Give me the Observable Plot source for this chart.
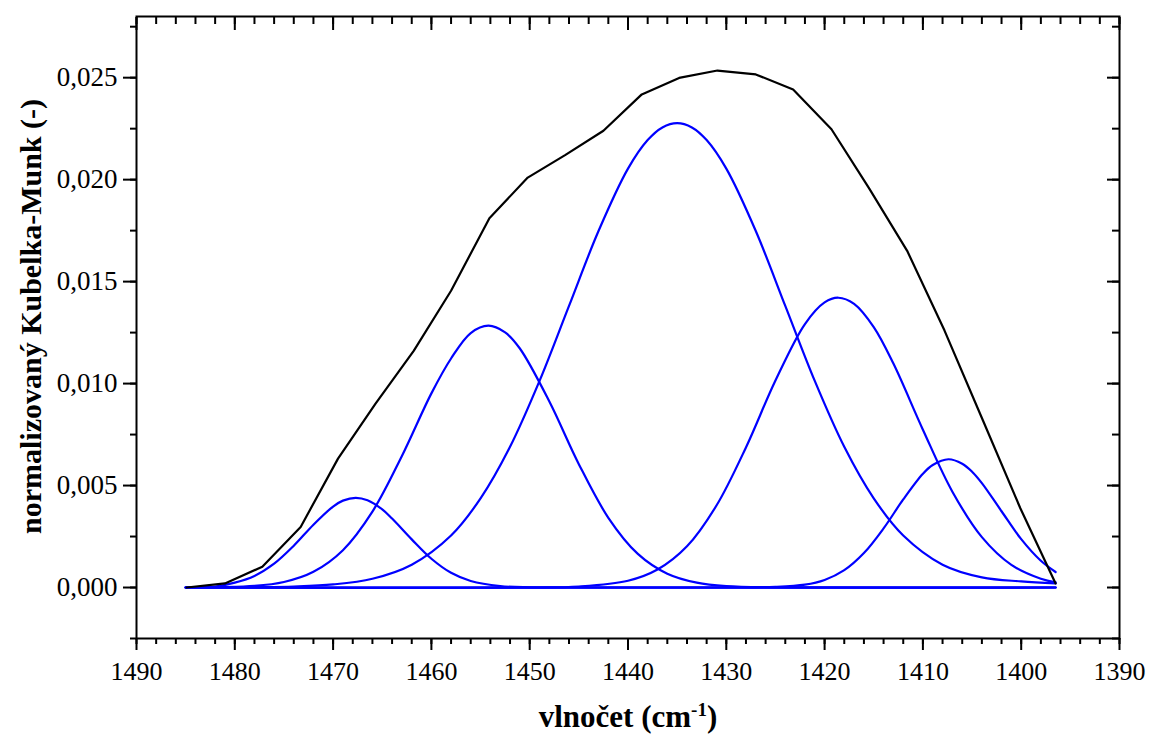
<!DOCTYPE html>
<html>
<head>
<meta charset="utf-8">
<script src="https://cdn.jsdelivr.net/npm/d3@7"></script>
<script src="https://cdn.jsdelivr.net/npm/@observablehq/plot@0.6"></script>
<style>
  html, body { margin: 0; padding: 0; background: #ffffff; }
  #chart { width: 1149px; height: 742px; }
</style>
</head>
<body>
<div id="chart"></div>
<script>
// ---- data ----
const xTitle = "vlnočet (cm-1)";
const yTitle = "normalizovaný Kubelka-Munk (-)";

const xMajorTicks = [1490, 1480, 1470, 1460, 1450, 1440, 1430, 1420, 1410, 1400, 1390];
const xMinorTicks = d3.range(1390, 1490.1, 2);
const yMajorTicks = [0, 0.005, 0.010, 0.015, 0.020, 0.025];
const yMinorTicks = [-0.0025, 0, 0.0025, 0.005, 0.0075, 0.010, 0.0125, 0.015, 0.0175, 0.020, 0.0225, 0.025, 0.0275];

// measured spectrum (black)
const measuredWavenumber = [1484.9, 1481.0, 1477.2, 1473.3, 1469.5, 1465.7, 1461.8, 1458.0, 1454.1, 1450.2, 1446.4, 1442.5, 1438.6, 1434.8, 1430.9, 1427.0, 1423.2, 1419.3, 1415.5, 1411.6, 1407.8, 1403.9, 1400.1, 1396.5];
const measuredKM = [0.0000, 0.0002, 0.00102, 0.00297, 0.00632, 0.0090, 0.0116, 0.01455, 0.01811, 0.0201, 0.0212, 0.0224, 0.02418, 0.02499, 0.02535, 0.02516, 0.02442, 0.02247, 0.0196, 0.01651, 0.0126, 0.0082, 0.0039, 0.0002];

// fitted components (blue)
const baselineWavenumber = [1485, 1396.5];
const baselineKM = [0, 0];

const peak1Wavenumber = [1485, 1482, 1480, 1478, 1476, 1474, 1472, 1470, 1469, 1467.7, 1466.5, 1465, 1464, 1462, 1460, 1458, 1456, 1453, 1450, 1445, 1396.5];
const peak1KM = [0, 0.00005, 0.00024, 0.00057, 0.00117, 0.00205, 0.00308, 0.00397, 0.00426, 0.0044, 0.00428, 0.00383, 0.00338, 0.00236, 0.00141, 0.00072, 0.00032, 0.00007, 0.00001, 0, 0];

const peak2Wavenumber = [1485, 1478, 1475, 1472, 1469, 1466, 1463, 1460, 1458, 1456, 1454.2, 1452.5, 1451, 1448, 1445, 1442, 1439, 1436, 1433, 1430, 1425, 1396.5];
const peak2KM = [0, 0.00008, 0.00027, 0.00077, 0.00183, 0.00372, 0.00645, 0.00952, 0.01123, 0.01248, 0.01284, 0.01251, 0.01172, 0.00912, 0.00605, 0.00342, 0.00165, 0.00068, 0.00024, 0.00007, 0.00001, 0];

const peak3Wavenumber = [1485, 1478, 1474, 1470, 1466, 1462, 1458, 1455, 1452, 1449, 1446, 1443, 1440, 1438, 1436.5, 1435, 1433.5, 1432, 1430, 1427, 1424, 1421, 1418, 1415, 1412, 1408, 1404, 1400, 1396.5];
const peak3KM = [0, 0.00002, 0.00005, 0.00015, 0.00043, 0.00112, 0.00255, 0.00437, 0.0069, 0.01013, 0.01381, 0.01748, 0.02054, 0.02194, 0.02256, 0.02277, 0.02256, 0.02194, 0.02054, 0.01748, 0.01381, 0.01013, 0.0069, 0.00437, 0.00255, 0.00112, 0.0005, 0.0003, 0.0002];

const peak4Wavenumber = [1485, 1450, 1445, 1440, 1437, 1434, 1431, 1428, 1425, 1422, 1420, 1418.6, 1417, 1415, 1413, 1410, 1407, 1404, 1401, 1398, 1396.5];
const peak4KM = [0, 0, 0.00005, 0.00033, 0.00088, 0.00202, 0.00402, 0.00687, 0.01015, 0.01292, 0.01398, 0.01421, 0.01391, 0.01277, 0.01098, 0.00774, 0.0047, 0.00247, 0.00111, 0.00043, 0.00026];

const peak5Wavenumber = [1485, 1430, 1425, 1422, 1420, 1418, 1416, 1414, 1412, 1410, 1409, 1407.4, 1406, 1405, 1404, 1402, 1400, 1398, 1396.5];
const peak5KM = [0, 0, 0.00003, 0.00014, 0.00037, 0.00085, 0.00169, 0.0029, 0.00432, 0.00558, 0.00601, 0.00629, 0.00607, 0.00568, 0.00512, 0.00374, 0.00237, 0.00131, 0.00076];

// ---- build tables ----
const toRows = (xs, ys, name) => xs.map((x, i) => ({x, y: ys[i], series: name}));
const measured = toRows(measuredWavenumber, measuredKM, "measured");
const components = [
  ...toRows(baselineWavenumber, baselineKM, "baseline"),
  ...toRows(peak1Wavenumber, peak1KM, "peak1"),
  ...toRows(peak2Wavenumber, peak2KM, "peak2"),
  ...toRows(peak3Wavenumber, peak3KM, "peak3"),
  ...toRows(peak4Wavenumber, peak4KM, "peak4"),
  ...toRows(peak5Wavenumber, peak5KM, "peak5")
];

const fmtY = d => d.toFixed(3).replace(".", ",");
const serif = "'Liberation Serif', 'Times New Roman', serif";

const chart = Plot.plot({
  width: 1149,
  height: 742,
  marginLeft: 136,
  marginRight: 30,
  marginTop: 16,
  marginBottom: 104,
  x: {domain: [1490, 1390]},
  y: {domain: [-0.0025, 0.028]},
  style: {fontFamily: serif, fontSize: "26px", background: "#ffffff", color: "#000000"},
  marks: [
    // fitted components
    Plot.line(components, {x: "x", y: "y", z: "series", stroke: "#0000ff", strokeWidth: 2.2, curve: "catmull-rom"}),
    // measured
    Plot.line(measured, {x: "x", y: "y", stroke: "#000000", strokeWidth: 2.2}),
    // axes: bottom/left outward with labels
    Plot.axisX(xMinorTicks, {anchor: "bottom", tickSize: 6, strokeWidth: 2, fill: "none", label: null}),
    Plot.axisX(xMajorTicks, {anchor: "bottom", tickSize: 12, tickPadding: 11, strokeWidth: 2, fontSize: 26, tickFormat: d => String(d), label: null}),
    Plot.axisY(yMinorTicks, {anchor: "left", tickSize: 6, strokeWidth: 2, fill: "none", label: null}),
    Plot.axisY(yMajorTicks, {anchor: "left", tickSize: 13, tickPadding: 6, strokeWidth: 2, fontSize: 27, tickFormat: fmtY, label: null}),
    // top/right inward ticks
    Plot.axisX(xMinorTicks, {anchor: "top", tickSize: -7, strokeWidth: 2, fill: "none", label: null}),
    Plot.axisX(xMajorTicks, {anchor: "top", tickSize: -13, strokeWidth: 2, fill: "none", label: null}),
    Plot.axisY(yMinorTicks, {anchor: "right", tickSize: -8, strokeWidth: 2, fill: "none", label: null}),
    Plot.axisY(yMajorTicks, {anchor: "right", tickSize: -13, strokeWidth: 2, fill: "none", label: null}),
    Plot.frame({stroke: "#000000", strokeWidth: 2}),
    // axis titles
    Plot.text([xTitle], {text: d => d, frameAnchor: "bottom", textAnchor: "middle", dy: 88, fontSize: 31, fontWeight: "bold", fill: "#000000"}),
    Plot.text([yTitle], {text: d => d, frameAnchor: "left", textAnchor: "middle", rotate: -90, dx: -105, dy: -11, fontSize: 30, fontWeight: "bold", fill: "#000000"})
  ]
});

// superscript in the x title
d3.select(chart).selectAll("text").filter(function() { return this.textContent === xTitle; }).each(function() {
  const t = d3.select(this);
  t.text(null);
  t.append("tspan").text("vlnočet (cm");
  t.append("tspan").attr("dy", "-11").attr("font-size", "19").text("-1");
  t.append("tspan").attr("dy", "11").text(")");
});

document.getElementById("chart").appendChild(chart);
</script>
</body>
</html>
